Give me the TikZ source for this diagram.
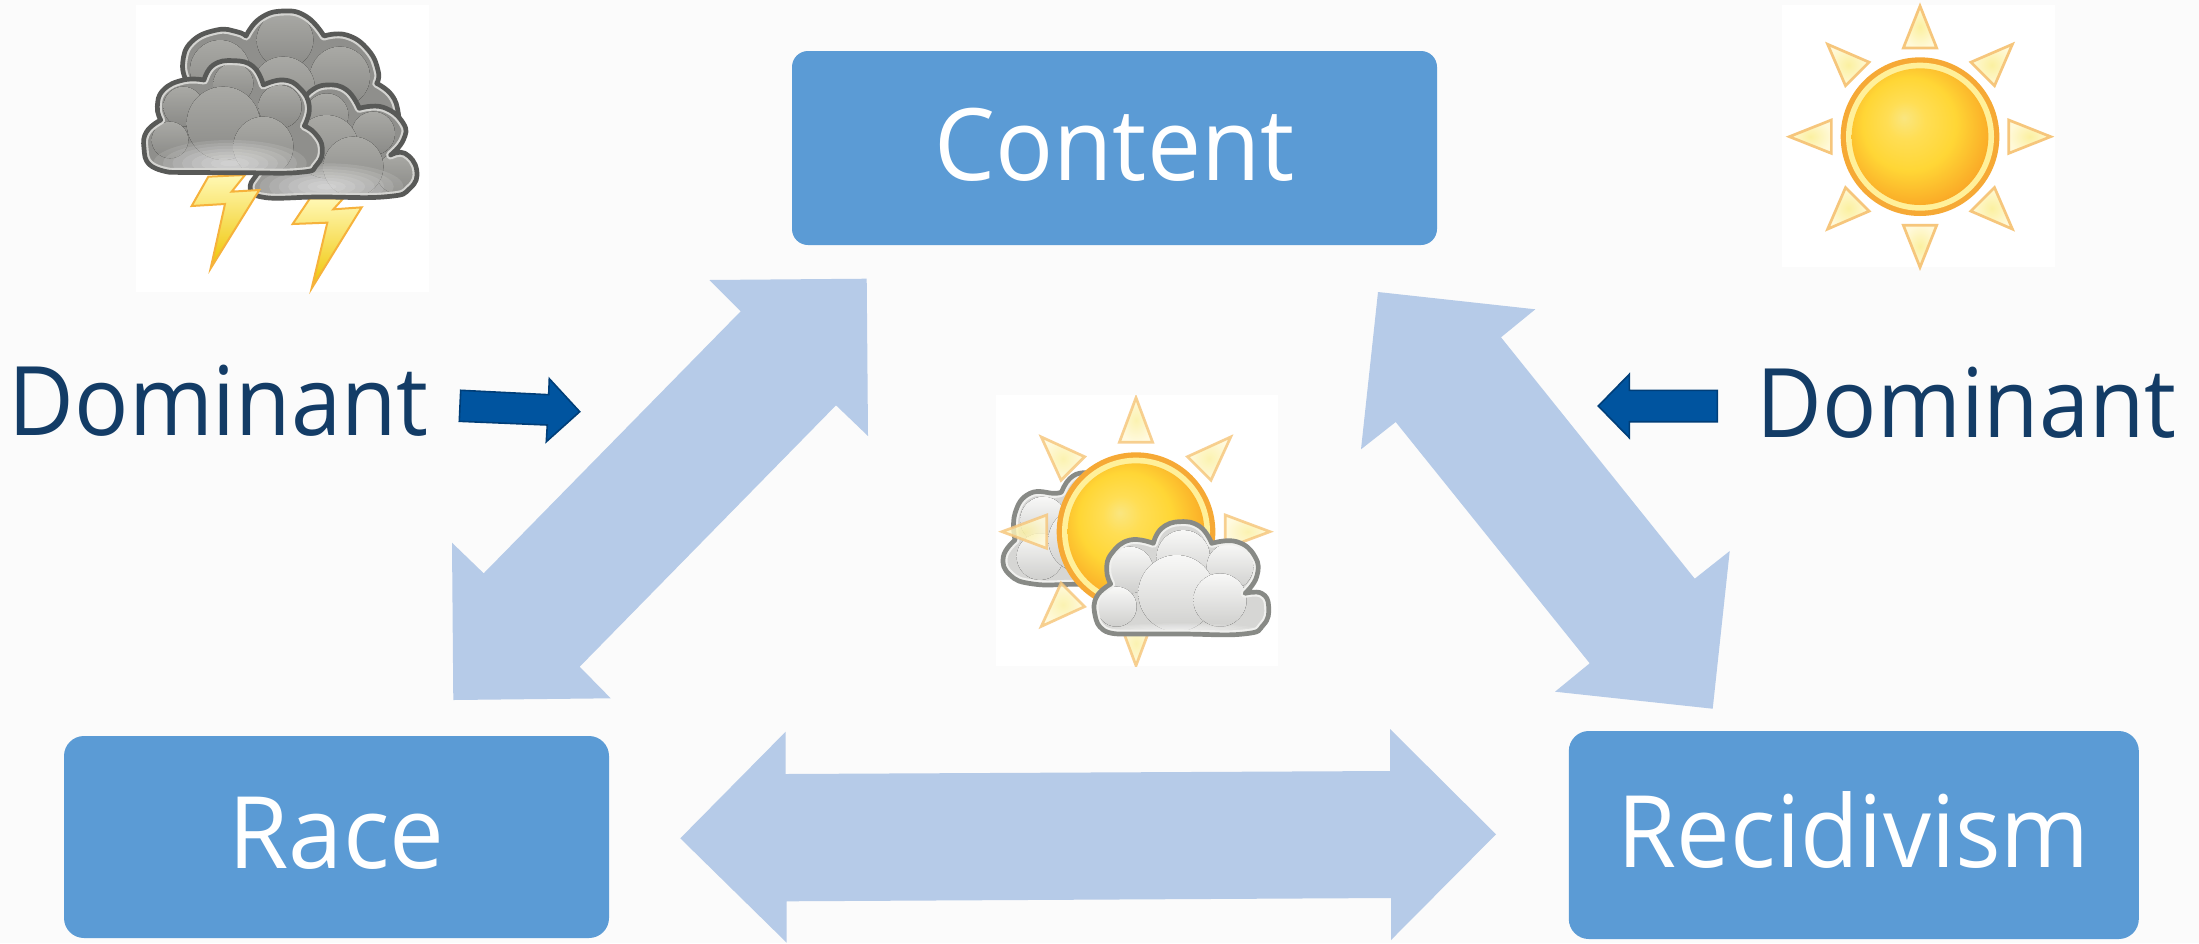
\documentclass[tikz,border=0pt]{standalone}
\usepackage{fontspec}
\setmainfont{Open Sans}
\definecolor{bgc}{HTML}{FBFBFB}
\definecolor{boxc}{HTML}{5B9BD5}
\definecolor{linkc}{HTML}{B6CBE8}
\definecolor{darkc}{HTML}{00549F}
\definecolor{darke}{HTML}{003E78}
\definecolor{txtc}{HTML}{133C66}
\definecolor{stormo}{HTML}{585957}
\definecolor{stormr}{HTML}{D4D4D1}
\definecolor{stormi}{HTML}{8F8F8C}
\definecolor{stormt}{HTML}{A9A9A5}
\definecolor{stormb}{HTML}{8A8A87}
\definecolor{wo}{HTML}{888A86}
\definecolor{wr}{HTML}{F0F0EE}
\definecolor{wi}{HTML}{D6D6D4}
\definecolor{wt}{HTML}{F8F8F7}
\definecolor{wb}{HTML}{CFCFCD}
\definecolor{suno}{HTML}{F6A935}
\definecolor{sunr}{HTML}{FFF09A}
\definecolor{rayo}{HTML}{F6C67C}
\definecolor{rayi}{HTML}{FBF0A0}
\definecolor{rayu}{HTML}{FFF9D8}
\definecolor{bolto}{HTML}{F6B23C}
\definecolor{boltt}{HTML}{FFF8B4}
\definecolor{boltb}{HTML}{EFC400}
\pgfdeclareradialshading{sunball}{\pgfpoint{-6bp}{7bp}}{
  rgb(0bp)=(0.98,0.90,0.50);
  rgb(7bp)=(1,0.87,0.33);
  rgb(17bp)=(1,0.84,0.21);
  rgb(29bp)=(0.98,0.66,0.15);
  rgb(50bp)=(0.98,0.66,0.15)}
\tikzset{
  boxn/.style={fill=boxc,text=white,inner sep=0pt,text depth=0pt},
  linkarrow/.style={fill=linkc},
  darkarrow/.style={fill=darkc,draw=darke,line width=1.6pt,line join=miter},
  domlab/.style={text=txtc,inner sep=0pt,anchor=base west},
  whitepic/.style={fill=white},
  bolt/.style={draw=bolto,line width=2pt,line join=miter,top color=boltt,bottom color=boltb},
  lobe/.style={smooth,tension=.8}
}
\newcommand{\lab}[3]{\resizebox{#1}{\height}{\fontsize{#2}{#2}\selectfont #3}}
% #1 outline path macro, #2 base, #3 rim, #4 outline colour, #5 inner shapes
\newcommand{\cloud}[5]{
  \begin{scope}
    \clip #1;
    \fill[#2] #1;
    #5
    \draw[#3,line width=9pt,line join=round] #1;
  \end{scope}
  \draw[#4,line width=4.7pt,line join=round] #1;
}
\newcommand{\puffs}[3]{\foreach \x/\y/\r in {#1} {\fill[top color=#2,bottom color=#3] (\x,\y) circle [radius=\r];}}
\newcommand{\glow}[4]{\foreach \k in {1,...,8} {\fill[white,opacity=.11] (#1,#2) ellipse [x radius=#3*\k/8,y radius=#4*\k/8];}}
\newcommand{\sunrays}[5]{% cx cy apex base opacity
  \foreach \a in {0,45,...,315} {
    \begin{scope}[shift={(#1,#2)},rotate=\a]
      \path[draw=rayo,line width=2.7pt,line join=miter,inner color=rayi,outer color=rayu,opacity=#5]
        (0,-#3) -- (-50,-#4) -- (50,-#4) -- cycle;
    \end{scope}}
}
\newcommand{\sunglobe}[2]{
  \fill[suno] (#1,#2) circle [radius=238];
  \fill[sunr] (#1,#2) circle [radius=222];
  \shade[shading=sunball] (#1,#2) circle [radius=205];
}
\def\bigpath{plot[lobe] coordinates {(200,245) (188,190) (215,125) (290,90) (350,95) (378,108)} -- plot[lobe] coordinates {(378,108) (420,55) (490,33) (560,50) (612,108)} -- plot[lobe] coordinates {(612,108) (680,105) (745,150) (775,215) (770,250)} -- plot[lobe] coordinates {(770,250) (815,285) (835,340) (835,400)} -- (500,400) -- cycle}
\def\midpath{(395,545) -- plot[lobe] coordinates {(395,545) (420,590) (600,591) (800,590) (870,565) (890,510) (855,460) (812,465)} -- plot[lobe] coordinates {(812,465) (850,420) (850,370) (790,322) (718,325)} -- plot[lobe] coordinates {(718,325) (680,270) (620,255) (570,275) (545,310)} -- (500,400) -- cycle}
\def\frontpath{plot[lobe] coordinates {(150,517) (350,518) (540,517) (590,495) (607,445) (585,400) (553,378)} -- plot[lobe] coordinates {(553,378) (568,320) (540,265) (490,240) (430,255)} -- plot[lobe] coordinates {(430,255) (400,200) (340,182) (280,195) (252,240)} -- plot[lobe] coordinates {(252,240) (190,240) (130,270) (112,320) (122,360)} -- plot[lobe] coordinates {(122,360) (80,395) (72,445) (90,495) (150,517)} -- cycle}
\def\fcpath{plot[lobe] coordinates {(420,762) (600,762) (790,762) (850,735) (866,680) (845,640) (795,640)} -- plot[lobe] coordinates {(795,640) (830,590) (825,530) (770,485) (695,490)} -- plot[lobe] coordinates {(695,490) (660,440) (600,425) (545,445) (520,490)} -- plot[lobe] coordinates {(520,490) (450,480) (395,520) (380,570) (392,612)} -- plot[lobe] coordinates {(392,612) (350,650) (345,705) (370,750) (420,762)} -- cycle}
\def\bcpath{(400,612) -- plot[lobe] coordinates {(400,612) (280,613) (160,612) (90,585) (70,530) (105,480)} -- plot[lobe] coordinates {(105,480) (105,400) (150,340) (225,340) (245,335)} -- plot[lobe] coordinates {(245,335) (270,295) (310,278) (350,285)} -- (400,300) -- cycle}
\begin{document}
\begin{tikzpicture}[x=1pt,y=-1pt]
\useasboundingbox (0,0) rectangle (2199,943);
\fill[bgc] (0,0) rectangle (2199,943);

% big link arrows
\fill[linkarrow] (709.3,280) -- (866.7,278.7) -- (868,436) -- (836,405.3) -- (579.7,666.7) -- (610.7,698.3) -- (453.3,700) -- (452,542.7) -- (483.7,573.3) -- (740.7,311.3) -- cycle;
\fill[linkarrow] (1378,292) -- (1535.3,309.3) -- (1501,337.3) -- (1694.7,578.7) -- (1729.7,551) -- (1712.7,708.7) -- (1555,691.7) -- (1589.7,663.3) -- (1395.7,422) -- (1361,449.3) -- cycle;
\fill[linkarrow] (680.3,838.3) -- (785.6,731.7) -- (785.6,774) -- (1390,771) -- (1390,729) -- (1496,834.3) -- (1391,940) -- (1391,898) -- (786.7,901.3) -- (786.7,942.7) -- cycle;

% boxes
\node[boxn,rounded corners=16pt,minimum width=645pt,minimum height=194pt,text height=64pt] (content) at (1114.5,148) {\lab{360pt}{100pt}{Content}};
\node[boxn,rounded corners=20pt,minimum width=545pt,minimum height=202pt,text height=62pt] (race) at (336.5,837) {\lab{216pt}{100pt}{Race}};
\node[boxn,rounded corners=20pt,minimum width=570pt,minimum height=208pt,text height=64pt] (recid) at (1853.8,835) {\lab{472pt}{100pt}{Recidivism}};

% Dominant labels and small arrows
\node[domlab] (domleft) at (8.5,435) {\lab{420pt}{96pt}{Dominant}};
\node[domlab] (domright) at (1756.5,437.7) {\lab{420pt}{96pt}{Dominant}};
\filldraw[darkarrow] (460.7,390.3) -- (548.7,394.7) -- (549.3,378.7) -- (579.7,411.7) -- (546.3,441.7) -- (547.3,425) -- (459.3,421.3) -- cycle;
\filldraw[darkarrow] (1717.3,390.3) -- (1629.3,390.3) -- (1629.3,374.3) -- (1598.3,406) -- (1629.3,437.7) -- (1629.3,421.7) -- (1717.3,421.7) -- cycle;

% storm picture
\fill[whitepic] (136,5) rectangle (429.3,291.7);
\begin{scope}[shift={(120,0)},x=0.33333pt,y=-0.33333pt]
  \filldraw[bolt] (570,595) -- (518,672) -- (622,668) -- (575,865) -- (725,622) -- (640,628) -- (670,595) -- cycle;
  \cloud{\bigpath}{stormi}{stormr}{stormo}{%
    \puffs{300/210/90,495/120/85,660/230/90,490/265/95}{stormt}{stormb}}
  \cloud{\midpath}{stormi}{stormr}{stormo}{%
    \puffs{620/345/65,760/400/65,620/440/95,830/520/60,700/500/90}{stormt}{stormb}
    \glow{620}{560}{230}{70}}
  \filldraw[bolt] (265,530) -- (215,618) -- (315,612) -- (272,805) -- (418,570) -- (335,575) -- (375,525) -- cycle;
  \cloud{\frontpath}{stormi}{stormr}{stormo}{%
    \puffs{190/320/60,340/250/60,150/420/55,480/320/65,310/370/110,430/440/90}{stormt}{stormb}
    \glow{330}{490}{230}{70}}
\end{scope}

% sun picture
\fill[whitepic] (1782,4.7) rectangle (2055,266.7);
\begin{scope}[shift={(1770,0)},x=0.33333pt,y=-0.33333pt]
  \sunrays{450}{410}{392}{266}{1}
  \sunglobe{450}{410}
\end{scope}

% partly sunny picture
\fill[whitepic] (996,395) rectangle (1278,666);
\begin{scope}[shift={(980,380)},x=0.33333pt,y=-0.33333pt]
  \cloud{\bcpath}{wi}{wr}{wo}{%
    \puffs{190/420/70,180/530/70,300/480/95}{wt}{wb}}
  \begin{scope}
    \clip (48,45) rectangle (895,858);
    \sunrays{468}{455}{402}{268}{.82}
  \end{scope}
  \sunglobe{468}{455}
  \cloud{\fcpath}{wi}{wr}{wo}{%
    \puffs{450/570/70,410/680/60,610/530/80,750/560/70,590/640/115,720/660/80}{wt}{wb}
    \glow{600}{750}{240}{20}}
\end{scope}
\end{tikzpicture}
\end{document}
